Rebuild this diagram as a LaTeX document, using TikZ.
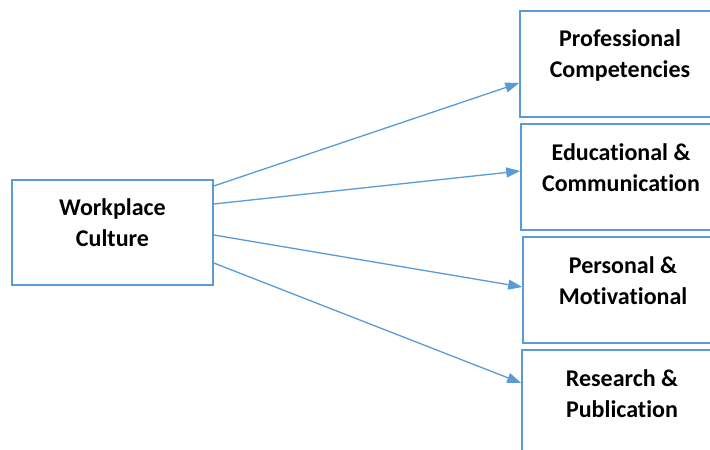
\documentclass[tikz,border=0pt]{standalone}
\usepackage{fontspec}
\setmainfont{Carlito}[Ligatures=NoCommon]
\usetikzlibrary{arrows.meta,positioning}
\definecolor{boxblue}{HTML}{5B9BD5}

\begin{document}
\begin{tikzpicture}[x=1pt,y=-1pt,
  box/.style={draw=boxblue,line width=1.6pt,minimum width=201pt,minimum height=105pt,inner sep=0pt},
  lbl/.style={align=center,font=\fontsize{24}{31}\selectfont\bfseries,inner sep=0pt},
  arr/.style={draw=boxblue,line width=1.3pt,-{Triangle[length=14pt,width=10pt]}}]
  \clip (0,0) rectangle (710,450);
  \fill[white] (0,0) rectangle (710,450);
  \node[box] (wc) at (112.5,232.5) {};
  \node[box,minimum width=200pt,minimum height=106pt] (pc) at (620,64) {};
  \node[box,minimum width=200pt,minimum height=106pt] (ec) at (621,177) {};
  \node[box,minimum width=200pt,minimum height=106pt] (pm) at (623,290) {};
  \node[box,minimum width=200pt,minimum height=106pt] (rp) at (622,403) {};
  \node[lbl] (wc-t) at ([yshift=10pt]wc.center) {Workplace\\Culture};
  \node[lbl] (pc-t) at ([yshift=9pt]pc.center) {Professional\\Competencies};
  \node[lbl] (ec-t) at ([yshift=9pt]ec.center) {Educational \&\\Communication};
  \node[lbl] (pm-t) at ([yshift=9pt]pm.center) {Personal \&\\Motivational};
  \node[lbl] (rp-t) at ([yshift=9pt]rp.center) {Research \&\\Publication};
  \draw[arr] ([yshift=46.5pt]wc.east) -- ([yshift=-19pt]pc.west);
  \draw[arr] ([yshift=28.5pt]wc.east) -- ([yshift=6pt]ec.west);
  \draw[arr] ([yshift=-2.5pt]wc.east) -- ([yshift=3pt]pm.west);
  \draw[arr] ([yshift=-30.5pt]wc.east) -- ([yshift=20pt]rp.west);
\end{tikzpicture}
\end{document}
